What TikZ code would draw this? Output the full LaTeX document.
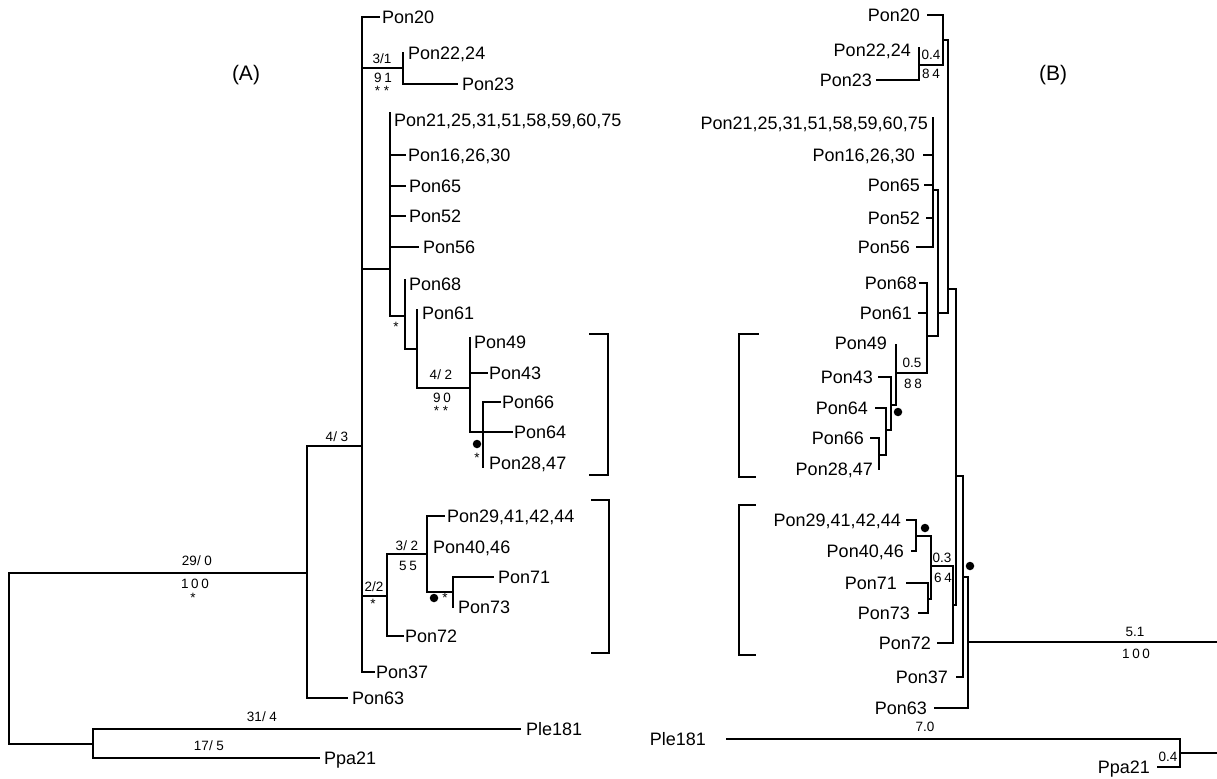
\documentclass[tikz,border=0pt]{standalone}
\usepackage{fontspec}
\newfontfamily\lsans{Liberation Sans}
\newfontfamily\lsansw[LetterSpace=20]{Liberation Sans}
\newcommand\myleaf{\lsans\fontsize{18bp}{20bp}\selectfont}
\newcommand\mylab{\lsans\fontsize{13.5bp}{15bp}\selectfont}
\newcommand\mybs{\lsansw\fontsize{13.5bp}{15bp}\selectfont}
\newcommand\mytitle{\lsans\fontsize{21bp}{24bp}\selectfont}
\begin{document}
\begin{tikzpicture}[x=1bp,y=-1bp,
  br/.style={line width=1.8bp, line cap=rect},
  lfA/.style={anchor=base west, inner sep=0pt, font=\myleaf, yshift=-6.5bp},
  lfB/.style={anchor=base east, inner sep=0pt, font=\myleaf, yshift=-6.5bp},
  sl/.style={anchor=center, inner sep=0pt, font=\mylab},
  bs/.style={anchor=center, inner sep=0pt, font=\mybs},
  st/.style={anchor=center, inner sep=0pt, font=\mylab},
  dot/.style={circle, fill=black, inner sep=0pt, minimum size=8.5bp},
  ttl/.style={anchor=center, inner sep=0pt, font=\mytitle}]
\useasboundingbox[fill=white] (0,0) rectangle (1217,779);

% ================= TREE A =================
\node[ttl] (tA) at (246,75) {(A)};
% root
\coordinate (aR1) at (9,573);
\coordinate (aR2) at (9,744);
\draw[br] (aR1) -- (aR2);
\coordinate (aN1j) at (307,573);
\draw[br] (aR1) -- (aN1j);
\coordinate (aO) at (93,744);
\draw[br] (aR2) -- (aO);
\node[sl] (l290) at (197,561) {29/ 0};
\node[bs] (b100) at (195,584) {100};
\node[st] (s100) at (193,598) {*};
% outgroup
\draw[br] (93,729) -- (93,758);
\node[lfA] (aPle) at (526,729) {Ple181};
\node[lfA] (aPpa) at (324,758) {Ppa21};
\draw[br] (93,729) -- (520,729);
\draw[br] (93,758) -- (319,758);
\node[sl] (l314) at (262,717) {31/ 4};
\node[sl] (l175) at (209,746) {17/ 5};
% N1
\draw[br] (307,446) -- (307,698);
\draw[br] (307,698) -- (347,698);
\node[lfA] (a63) at (352,698) {Pon63};
\draw[br] (307,446) -- (362,446);
\node[sl] (l43) at (337,437) {4/ 3};
% N2
\draw[br] (362,17) -- (362,672);
\draw[br] (362,17) -- (379,17);
\node[lfA] (a20) at (382,17) {Pon20};
\draw[br] (362,672) -- (374,672);
\node[lfA] (a37) at (376,672) {Pon37};
% 3/1 clade
\draw[br] (362,68) -- (403,68);
\draw[br] (403,53) -- (403,84);
\node[lfA] (a22) at (408,53) {Pon22,24};
\draw[br] (403,84) -- (457,84);
\node[lfA] (a23) at (462,84) {Pon23};
\node[sl] (l31) at (382,59) {3/1};
\node[bs] (b91) at (383,78) {91};
\node[st] (s91) at (382,91) {* *};
% polytomy P
\draw[br] (362,269) -- (390,269);
\draw[br] (390,113) -- (390,316);
\node[lfA] (a21) at (394,120) {Pon21,25,31,51,58,59,60,75};
\draw[br] (390,155) -- (405,155);
\node[lfA] (a16) at (408,155) {Pon16,26,30};
\draw[br] (390,186) -- (405,186);
\node[lfA] (a65) at (409,186) {Pon65};
\draw[br] (390,216) -- (405,216);
\node[lfA] (a52) at (409,216) {Pon52};
\draw[br] (390,247) -- (418,247);
\node[lfA] (a56) at (423,247) {Pon56};
% Q
\draw[br] (390,316) -- (405,316);
\node[st] (sQ) at (396,327) {*};
\draw[br] (405,280) -- (405,349);
\node[lfA] (a68) at (409,284) {Pon68};
% R
\draw[br] (405,349) -- (417,349);
\draw[br] (417,310) -- (417,388);
\node[lfA] (a61) at (422,313) {Pon61};
% S
\draw[br] (417,388) -- (470,388);
\node[sl] (l42) at (441,375) {4/ 2};
\node[bs] (b90) at (442,398) {90};
\node[st] (s90) at (441,411) {* *};
\draw[br] (470,338) -- (470,432);
\node[lfA] (a49) at (474,342) {Pon49};
\draw[br] (470,373) -- (487,373);
\node[lfA] (a43) at (489,373) {Pon43};
% T
\draw[br] (470,432) -- (512,432);
\node[lfA] (a64) at (514,432) {Pon64};
\draw[br] (483,402) -- (483,467);
\draw[br] (483,402) -- (500,402);
\node[lfA] (a66) at (502,402) {Pon66};
\node[lfA] (a28) at (489,463) {Pon28,47};
\node[dot] (dA1) at (477,444) {};
\node[st] (sA1) at (477,458) {*};
% bracket 1
\draw[br] (590,334) -- (608,334) -- (608,475) -- (590,475);
% U
\draw[br] (362,596) -- (387,596);
\node[sl] (l22) at (374,587) {2/2};
\node[st] (s22) at (373,604) {*};
\draw[br] (387,554) -- (387,636);
\draw[br] (387,636) -- (403,636);
\node[lfA] (a72) at (405,636) {Pon72};
% V
\draw[br] (387,554) -- (427,554);
\node[sl] (l32) at (407,546) {3/ 2};
\node[bs] (b55) at (408,566) {55};
\draw[br] (427,516) -- (427,592);
\draw[br] (427,516) -- (444,516);
\node[lfA] (a29) at (447,516) {Pon29,41,42,44};
\node[lfA] (a40) at (433,547) {Pon40,46};
% W
\draw[br] (427,592) -- (453,592);
\draw[br] (453,577) -- (453,607);
\draw[br] (453,577) -- (493,577);
\node[lfA] (a71) at (498,577) {Pon71};
\node[lfA] (a73) at (458,607) {Pon73};
\node[dot] (dA2) at (434,598) {};
\node[st] (sA2) at (445,598) {*};
% bracket 2
\draw[br] (592,500) -- (609,500) -- (609,653) -- (592,653);

% ================= TREE B =================
\node[ttl] (tB) at (1053,75) {(B)};
% top
\draw[br] (943,15) -- (943,65);
\draw[br] (928,15) -- (943,15);
\node[lfB] (b20) at (920,15) {Pon20};
\draw[br] (919,48) -- (919,80);
\node[lfB] (b22) at (911,50) {Pon22,24};
\draw[br] (877,80) -- (919,80);
\node[lfB] (b23) at (872,80) {Pon23};
\draw[br] (919,65) -- (943,65);
\node[sl] (l04a) at (931,55) {0.4};
\node[bs] (b84) at (931,74) {84};
\draw[br] (943,40) -- (948,40);
% b2
\draw[br] (948,40) -- (948,313);
\draw[br] (948,289) -- (956,289);
% C
\draw[br] (938,190) -- (938,336);
\draw[br] (938,313) -- (948,313);
% polytomy
\draw[br] (933,118) -- (933,247);
\draw[br] (933,190) -- (938,190);
\node[lfB] (b21) at (928,123) {Pon21,25,31,51,58,59,60,75};
\draw[br] (924,155) -- (933,155);
\node[lfB] (b16) at (915,155) {Pon16,26,30};
\draw[br] (925,185) -- (933,185);
\node[lfB] (b65) at (920,185) {Pon65};
\draw[br] (927,218) -- (933,218);
\node[lfB] (b52) at (920,218) {Pon52};
\draw[br] (917,247) -- (933,247);
\node[lfB] (b56) at (910,247) {Pon56};
% D
\draw[br] (927,283) -- (927,373);
\draw[br] (927,336) -- (938,336);
\draw[br] (920,283) -- (927,283);
\node[lfB] (b68) at (917,283) {Pon68};
\draw[br] (919,313) -- (927,313);
\node[lfB] (b61) at (912,313) {Pon61};
% E
\draw[br] (896,373) -- (927,373);
\node[sl] (l05) at (912,363) {0.5};
\node[bs] (b88) at (913,384) {88};
\draw[br] (896,345) -- (896,405);
\node[lfB] (b49) at (887,343) {Pon49};
\node[dot] (dB1) at (898,412) {};
% F
\draw[br] (891,377) -- (891,430);
\draw[br] (891,405) -- (896,405);
\draw[br] (879,377) -- (891,377);
\node[lfB] (b43) at (873,377) {Pon43};
% G
\draw[br] (886,408) -- (886,455);
\draw[br] (886,430) -- (891,430);
\draw[br] (876,408) -- (886,408);
\node[lfB] (b64) at (868,408) {Pon64};
% H
\draw[br] (879,438) -- (879,469);
\draw[br] (879,455) -- (886,455);
\draw[br] (871,438) -- (879,438);
\node[lfB] (b66) at (864,438) {Pon66};
\node[lfB] (b28) at (873,469) {Pon28,47};
% bracket B1
\draw[br] (758,334) -- (739,334) -- (739,477) -- (755,477);
% I
\draw[br] (916,520) -- (916,551);
\draw[br] (907,520) -- (916,520);
\node[lfB] (b29) at (901,520) {Pon29,41,42,44};
\draw[br] (912,551) -- (916,551);
\node[lfB] (b40) at (904,551) {Pon40,46};
\node[dot] (dB2) at (925,528) {};
% J
\draw[br] (916,536) -- (931,536);
\draw[br] (931,536) -- (931,599);
% K
\draw[br] (928,583) -- (928,613);
\draw[br] (928,599) -- (931,599);
\draw[br] (907,583) -- (928,583);
\node[lfB] (b71) at (897,583) {Pon71};
\draw[br] (919,613) -- (928,613);
\node[lfB] (b73) at (910,613) {Pon73};
% N
\draw[br] (931,566) -- (953,566);
\node[sl] (l03) at (942,558) {0.3};
\node[bs] (b64l) at (943,578) {64};
\draw[br] (953,566) -- (953,643);
\draw[br] (938,643) -- (953,643);
\node[lfB] (b72) at (931,643) {Pon72};
\draw[br] (953,605) -- (956,605);
% b3
\draw[br] (956,289) -- (956,605);
\draw[br] (956,476) -- (963,476);
% M
\draw[br] (963,476) -- (963,677);
\draw[br] (957,677) -- (963,677);
\node[lfB] (b37) at (948,677) {Pon37};
\draw[br] (963,577) -- (968,577);
% root B
\draw[br] (968,577) -- (968,708);
\draw[br] (935,708) -- (968,708);
\node[lfB] (b63) at (927,708) {Pon63};
\node[dot] (dB3) at (970,566) {};
\draw[br] (968,642) -- (1217,642);
\node[sl] (l51) at (1135,632) {5.1};
\node[bs] (b100b) at (1136,654) {100};
% bracket B2
\draw[br] (755,505) -- (739,505) -- (739,655) -- (755,655);
% outgroup B
\node[lfB] (bPle) at (706,739) {Ple181};
\draw[br] (727,739) -- (1180,739);
\node[sl] (l70) at (925,727) {7.0};
\draw[br] (1180,739) -- (1180,767);
\draw[br] (1180,753) -- (1217,753);
\draw[br] (1158,767) -- (1180,767);
\node[lfB] (bPpa) at (1150,767) {Ppa21};
\node[sl] (l04b) at (1168,757) {0.4};
\end{tikzpicture}
\end{document}
